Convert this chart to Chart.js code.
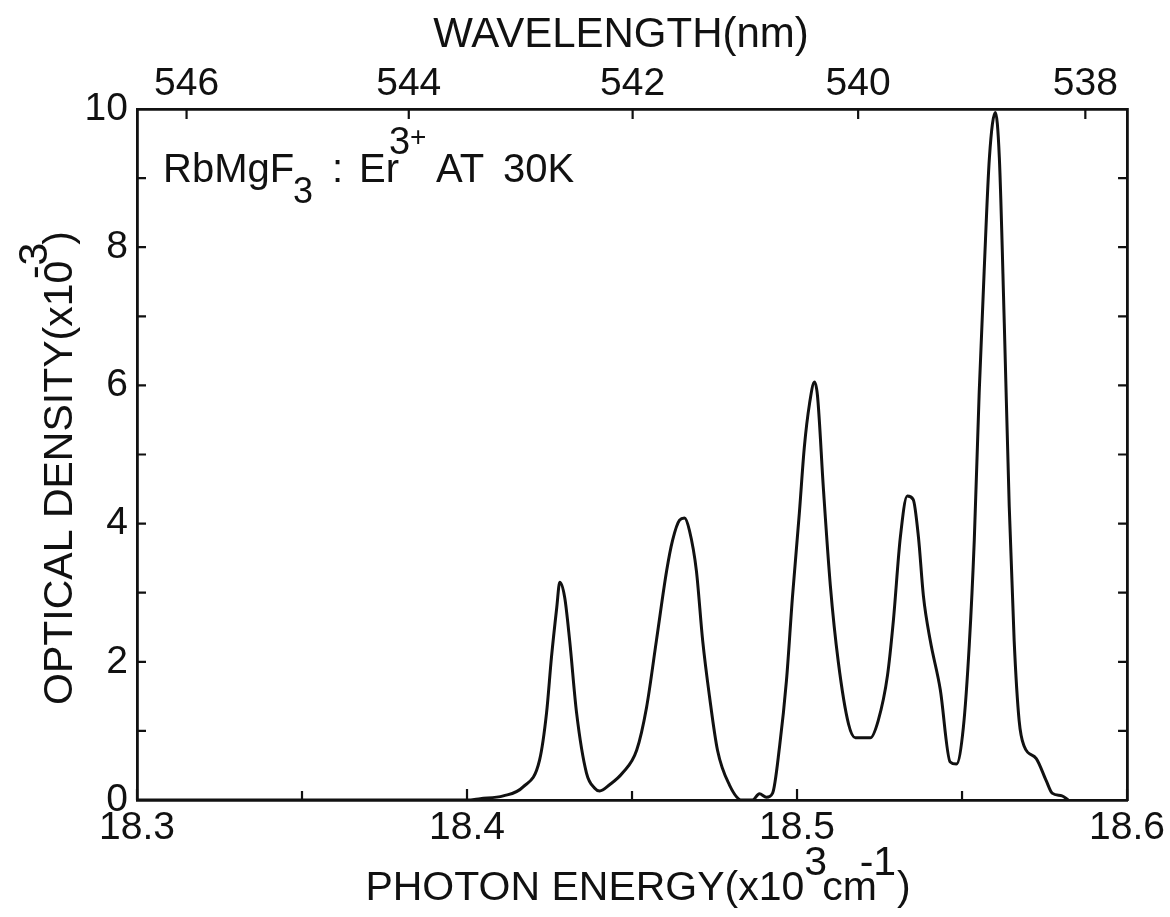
<!DOCTYPE html>
<html><head><meta charset="utf-8">
<style>html,body{margin:0;padding:0;background:#fff}#c{display:block}</style>
<script src="https://cdn.jsdelivr.net/npm/chart.js@4.4.1/dist/chart.umd.min.js"></script>
</head><body>
<canvas id="c" width="1170" height="917"></canvas>
<script>
// Photon energy (x10^3 cm^-1)
const energy=[18.300,18.400,18.404,18.411,18.417,18.422,18.4241,18.4256,18.4272,18.4281,18.4296,18.4311,18.4332,18.4362,18.4387,18.4402,18.4432,18.4471,18.4514,18.4544,18.4574,18.4605,18.4623,18.4644,18.4659,18.4674,18.4695,18.4714,18.4735,18.4759,18.4795,18.4832,18.4865,18.4886,18.4907,18.4926,18.4947,18.4968,18.4986,18.5007,18.5022,18.5038,18.5053,18.5062,18.5080,18.5101,18.5125,18.5156,18.5177,18.5222,18.5246,18.5274,18.5292,18.5313,18.5334,18.5352,18.5368,18.5383,18.5404,18.5434,18.5464,18.5483,18.5504,18.5522,18.5537,18.5552,18.5567,18.5583,18.5601,18.5613,18.5628,18.5643,18.5658,18.5673,18.5688,18.5725,18.5755,18.5773,18.5803,18.5822];
// Optical density (x10^-3)
const density=[0,0,0.02,0.06,0.19,0.58,1.26,2.07,2.79,3.15,2.93,2.31,1.26,0.39,0.17,0.13,0.22,0.39,0.72,1.34,2.31,3.32,3.76,4.05,4.08,3.9,3.32,2.31,1.49,0.72,0.22,0.0,0.0,0.09,0.04,0.1,0.77,1.73,2.93,4.15,5.1,5.74,6.05,5.85,4.5,3.1,2.0,1.1,0.9,0.9,1.15,1.8,2.6,3.8,4.4,4.35,3.8,2.95,2.3,1.6,0.55,0.52,1.05,2.25,3.75,5.9,7.65,9.3,9.95,9.3,6.9,4.25,2.3,1.15,0.78,0.6,0.28,0.1,0.06,0];
const energyTicks=[18.3,18.4,18.5,18.6];
const energyTickMarks=[18.3,18.35,18.4,18.45,18.5,18.55,18.6];
const wavelengthTicks=[546,544,542,540,538];
const densityTicks=[0,2,4,6,8,10];
const densityTickMarks=[1,2,3,4,5,6,7,8,9];

const FONT='"Liberation Sans", Arial, Helvetica, sans-serif';
const INK='#111';

function runsWidth(c,runs,size){
  let w=0;
  runs.forEach(r=>{c.font=(r.size||size)+'px '+FONT;w+=(r.dx||0)*size+c.measureText(r.t).width;});
  return w;
}
function drawRuns(c,x,y,runs,size){
  runs.forEach(r=>{
    const s=r.size||size;
    c.font=s+'px '+FONT;
    x+=(r.dx||0)*size;
    c.fillText(r.t,x,y+(r.dy||0)*size);
    x+=c.measureText(r.t).width;
  });
}

const decor={id:'decor',afterDraw(chart){
  const c=chart.ctx,a=chart.chartArea;
  const sx=chart.scales.x,sy=chart.scales.y,st=chart.scales.x2;
  c.save();
  c.strokeStyle=INK;c.lineWidth=2.2;c.beginPath();
  energyTickMarks.forEach(v=>{const p=sx.getPixelForValue(v);const L=(Math.abs(v*10-Math.round(v*10))<1e-6)?11:9;c.moveTo(p,a.bottom);c.lineTo(p,a.bottom-L);});
  wavelengthTicks.forEach(l=>{const p=st.getPixelForValue(1e4/l);c.moveTo(p,a.top);c.lineTo(p,a.top+10);});
  densityTickMarks.forEach(v=>{const p=sy.getPixelForValue(v);c.moveTo(a.left,p);c.lineTo(a.left+9,p);c.moveTo(a.right,p);c.lineTo(a.right-9,p);});
  c.stroke();

  c.fillStyle=INK;c.textBaseline='alphabetic';c.textAlign='left';
  // top title
  c.font='42px '+FONT;
  const t1='WAVELENGTH(nm)';
  c.fillText(t1,621-c.measureText(t1).width/2,47);
  // bottom title
  const bRuns=[{t:'PHOTON ENERGY(x10'},{t:'3',dy:-0.62,dx:0},{t:'cm',dx:-0.12},{t:'-1',dy:-0.62,dx:-0.42},{t:')',dx:0.02}];
  const bw=runsWidth(c,bRuns,41);
  drawRuns(c,638-bw/2,900,bRuns,41);
  // y title
  c.save();
  c.translate(72,468);c.rotate(-Math.PI/2);
  const yRuns=[{t:'OPTICAL DENSITY(x10'},{t:'-3',dy:-0.62,dx:-0.45},{t:')',dx:-0.05}];
  const yw=runsWidth(c,yRuns,41);
  drawRuns(c,-yw/2,0,yRuns,41);
  c.restore();
  // annotation
  c.font='40px '+FONT;
  c.fillText('RbMgF',a.left+26,182);
  c.font='36px '+FONT;
  c.fillText('3',a.left+156,203);
  c.font='40px '+FONT;
  c.fillText(':',a.left+195,182);
  c.fillText('Er',a.left+222,182);
  c.font='38px '+FONT;
  c.fillText('3',a.left+252,154);
  c.font='28px '+FONT;
  c.fillText('+',a.left+273,146);
  c.font='40px '+FONT;
  c.fillText('AT',a.left+299,182);
  c.fillText('30K',a.left+366,182);
  c.restore();
}};

const border={color:INK,width:2.8};
const grid={drawOnChartArea:false,drawTicks:false};
const tickFont={family:FONT,size:39};

new Chart(document.getElementById('c').getContext('2d'),{
  type:'line',
  data:{datasets:[{data:energy.map((e,i)=>({x:e,y:density[i]})),borderColor:INK,borderWidth:3,pointRadius:0,cubicInterpolationMode:'monotone',fill:false,xAxisID:'x',yAxisID:'y'}]},
  options:{
    responsive:false,animation:false,events:[],devicePixelRatio:1,
    layout:{padding:0},
    plugins:{legend:{display:false},tooltip:{enabled:false}},
    scales:{
      x:{type:'linear',position:'bottom',min:18.3,max:18.6,
        afterBuildTicks:s=>{s.ticks=energyTicks.map(v=>({value:v}));},
        ticks:{callback:v=>Number(v).toFixed(1),font:tickFont,color:INK,padding:5,maxRotation:0,autoSkip:false},
        grid:grid,border:border,afterFit:s=>{s.height=117;}},
      x2:{type:'linear',position:'top',min:18.3,max:18.6,
        afterBuildTicks:s=>{s.ticks=wavelengthTicks.map(l=>({value:1e4/l}));},
        ticks:{callback:v=>String(Math.round(1e4/v)),font:tickFont,color:INK,padding:1,maxRotation:0,autoSkip:false},
        grid:grid,border:border,afterFit:s=>{s.height=109;}},
      y:{type:'linear',position:'left',min:0,max:10,
        afterBuildTicks:s=>{s.ticks=densityTicks.map(v=>({value:v}));},
        ticks:{font:tickFont,color:INK,padding:9,autoSkip:false},
        grid:grid,border:border,afterFit:s=>{s.width=137;}},
      y2:{type:'linear',position:'right',min:0,max:10,
        ticks:{display:false},grid:grid,border:border,afterFit:s=>{s.width=42;}}
    }
  },
  plugins:[decor]
});
</script>
</body></html>
